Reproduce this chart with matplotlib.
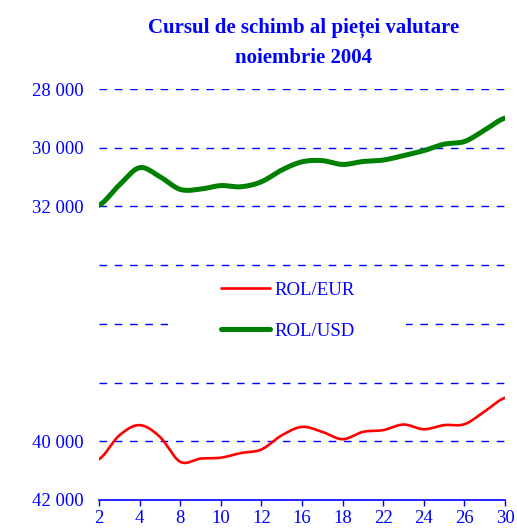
import numpy as np
import matplotlib
matplotlib.use("Agg")
import matplotlib.pyplot as plt
from matplotlib.patches import Rectangle
from matplotlib.ticker import FuncFormatter

# trading days of November 2004
days = [2, 3, 4, 5, 8, 9, 10, 11, 12, 15, 16, 17, 18, 19, 22, 23, 24, 25, 26, 29, 30]
rol_eur = [40610, 39800, 39450, 39850, 40700, 40590, 40560, 40400, 40280, 39800, 39510,
           39680, 39930, 39680, 39620, 39430, 39590, 39450, 39420, 38980, 38520]
rol_usd = [31960, 31270, 30680, 30990, 31420, 31410, 31290, 31330, 31160, 30760, 30480,
           30440, 30570, 30470, 30420, 30270, 30100, 29880, 29790, 29400, 28990]
y_ticks = [28000, 30000, 32000, 34000, 36000, 38000, 40000, 42000]
y_shown = [28000, 30000, 32000, 40000, 42000]

BLUE = "#0000ff"
plt.rcParams["font.family"] = ["Liberation Serif", "DejaVu Serif"]


def smooth(vals, n=24):
    # Catmull-Rom curve through the points, like Excel's smoothed line
    y = np.asarray(vals, float)
    p = np.concatenate([[y[0]], y, [y[-1]]])
    xs, ys = [], []
    t = np.linspace(0, 1, n, endpoint=False)
    for i in range(len(y) - 1):
        p0, p1, p2, p3 = p[i:i + 4]
        seg = 0.5 * ((2 * p1) + (-p0 + p2) * t + (2 * p0 - 5 * p1 + 4 * p2 - p3) * t ** 2
                     + (-p0 + 3 * p1 - 3 * p2 + p3) * t ** 3)
        xs.append(i + t)
        ys.append(seg)
    xs.append([len(y) - 1])
    ys.append([y[-1]])
    return np.concatenate(xs), np.concatenate(ys)


fig = plt.figure(figsize=(5.17, 5.32), dpi=100)
ax = fig.add_axes([0.1915, 0.0602, 0.7853, 0.7725])

x = np.arange(len(days))
xe, ye = smooth(rol_eur)
xu, yu = smooth(rol_usd)
ax.plot(xe, ye, color="#ff0000", lw=1.9, label="ROL/EUR", zorder=4, solid_capstyle="round")
ax.plot(xu, yu, color="#008000", lw=3.6, label="ROL/USD", zorder=4, solid_capstyle="round")

ax.set_xlim(0, len(days) - 1)
ax.set_ylim(42000, 28000)
ax.set_xticks(x[::2])
ax.set_xticklabels([str(d) for d in days[::2]])
ax.set_yticks(y_ticks)
ax.yaxis.set_major_formatter(FuncFormatter(
    lambda v, pos: f"{int(v):,}".replace(",", " ") if int(v) in y_shown else ""))

for v in y_ticks[:-1]:
    ax.axhline(v, color=BLUE, lw=1.0, dashes=(5.5, 5.5), zorder=1)

for s in ["top", "right", "left"]:
    ax.spines[s].set_visible(False)
ax.spines["bottom"].set_color(BLUE)
ax.spines["bottom"].set_linewidth(1.2)

ax.tick_params(axis="x", colors=BLUE, direction="out", length=4, width=1.0,
               labelsize=13.5, pad=3)
ax.tick_params(axis="y", colors=BLUE, length=0, labelsize=13.5, pad=11)

# white patch behind the legend
ax.add_patch(Rectangle((0.17, 0.39), 0.585, 0.075, transform=ax.transAxes,
                       facecolor="white", edgecolor="none", zorder=2))
leg = fig.legend(loc="center", bbox_to_anchor=(0.557, 0.416), frameon=False,
                 fontsize=13.5, handlelength=2.6, handletextpad=0.25, labelspacing=1.25)
for t in leg.get_texts():
    t.set_color(BLUE)

fig.text(0.587, 0.947, "Cursul de schimb al pieței valutare", ha="center", va="center",
         fontsize=15, fontweight="bold", color=BLUE)
fig.text(0.587, 0.891, "noiembrie 2004", ha="center", va="center",
         fontsize=15, fontweight="bold", color=BLUE)

fig.savefig("out.png", dpi=100)
